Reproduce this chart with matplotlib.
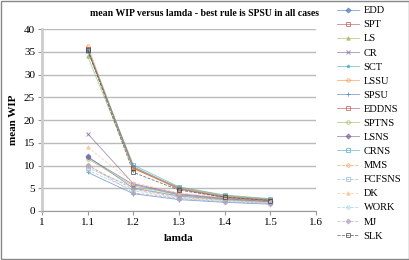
import matplotlib.pyplot as plt
from matplotlib.patches import Rectangle

plt.rcParams['font.family'] = ['Liberation Serif', 'DejaVu Serif']

lamda = [1.1, 1.2, 1.3, 1.4, 1.5]

rules = ['EDD', 'SPT', 'LS', 'CR', 'SCT', 'LSSU', 'SPSU', 'EDDNS', 'SPTNS',
         'LSNS', 'CRNS', 'MMS', 'FCFSNS', 'DK', 'WORK', 'MJ', 'SLK']

wip = {
    'EDD':    [12.0, 5.0, 3.3, 2.5, 2.0],
    'SPT':    [35.7, 9.6, 5.0, 3.2, 2.5],
    'LS':     [34.0, 9.3, 5.2, 3.4, 2.6],
    'CR':     [17.0, 6.0, 3.8, 2.8, 2.2],
    'SCT':    [35.5, 9.8, 4.9, 3.1, 2.4],
    'LSSU':   [36.3, 9.5, 5.1, 3.3, 2.5],
    'SPSU':   [8.5, 3.8, 2.5, 1.9, 1.5],
    'EDDNS':  [35.6, 9.4, 4.8, 3.0, 2.3],
    'SPTNS':  [11.5, 5.5, 3.5, 2.6, 2.1],
    'LSNS':   [11.8, 5.8, 3.6, 2.7, 2.1],
    'CRNS':   [35.2, 10.1, 5.3, 3.5, 2.7],
    'MMS':    [10.0, 4.8, 3.0, 2.3, 1.8],
    'FCFSNS': [9.5, 5.2, 3.2, 2.4, 1.9],
    'DK':     [14.0, 6.2, 4.0, 2.9, 2.2],
    'WORK':   [9.0, 4.5, 2.8, 2.1, 1.7],
    'MJ':     [10.2, 4.0, 2.7, 2.0, 1.6],
    'SLK':    [35.4, 8.5, 4.6, 3.0, 2.3],
}

styles = {
    'EDD':    ('#4F81BD', 'D', '-'),
    'SPT':    ('#C0504D', 's', '-'),
    'LS':     ('#9BBB59', '^', '-'),
    'CR':     ('#8064A2', 'x', '-'),
    'SCT':    ('#4BACC6', '*', '-'),
    'LSSU':   ('#F79646', 'o', '-'),
    'SPSU':   ('#4F81BD', '+', '-'),
    'EDDNS':  ('#C0504D', 's', '-'),
    'SPTNS':  ('#9BBB59', 'o', '-'),
    'LSNS':   ('#8064A2', 'D', '-'),
    'CRNS':   ('#4BACC6', 's', '-'),
    'MMS':    ('#F79646', 'o', '--'),
    'FCFSNS': ('#95B3D7', 's', '--'),
    'DK':     ('#FAC090', '^', '--'),
    'WORK':   ('#93CDDD', 'o', '--'),
    'MJ':     ('#B3A2C7', 'D', '--'),
    'SLK':    ('#404040', 's', '--'),
}

fig = plt.figure(figsize=(4.1, 2.6), dpi=100)
ax = fig.add_axes([0.1024, 0.1885, 0.6686, 0.6995])

for r in rules:
    c, m, ls = styles[r]
    ax.plot(lamda, wip[r], color=c, marker=m, linestyle=ls, linewidth=0.6,
            markersize=2.5, markerfacecolor='none' if m in 'so' else c,
            markeredgewidth=0.7, alpha=0.7, label=r)

ax.set_xlim(1, 1.6)
ax.set_ylim(0, 40)
ax.set_xticks([1, 1.1, 1.2, 1.3, 1.4, 1.5, 1.6])
ax.set_xticklabels(['1', '1.1', '1.2', '1.3', '1.4', '1.5', '1.6'])
ax.set_yticks(range(0, 41, 5))
ax.tick_params(labelsize=8, length=3, width=0.8, color='#999999', pad=2)
ax.grid(axis='y', color='#BBBBBB', linewidth=1)
ax.set_axisbelow(True)
for s in ['top', 'right']:
    ax.spines[s].set_visible(False)
ax.spines['left'].set_color('#CCCCCC')
ax.spines['left'].set_linewidth(2)
ax.spines['bottom'].set_color('#999999')
ax.spines['bottom'].set_linewidth(0.8)

ax.set_xlabel('lamda', fontsize=8, fontweight='bold', labelpad=5)
ax.set_ylabel('mean WIP', fontsize=8, fontweight='bold', labelpad=4)
fig.text(0.498, 0.95, 'mean WIP versus lamda - best rule is SPSU in all cases',
         ha='center', va='center', fontsize=7, fontweight='bold')

ax.legend(loc='upper left', bbox_to_anchor=(0.818, 0.985), bbox_transform=fig.transFigure,
          frameon=False, fontsize=7.5, labelspacing=0.46, handlelength=2.1,
          handletextpad=0.4, borderaxespad=0.0, borderpad=0.2)

fig.add_artist(Rectangle((0.002, 0.004), 0.995, 0.992, transform=fig.transFigure,
                         fill=False, edgecolor='#888888', linewidth=1))

fig.savefig('out.png', dpi=100)
